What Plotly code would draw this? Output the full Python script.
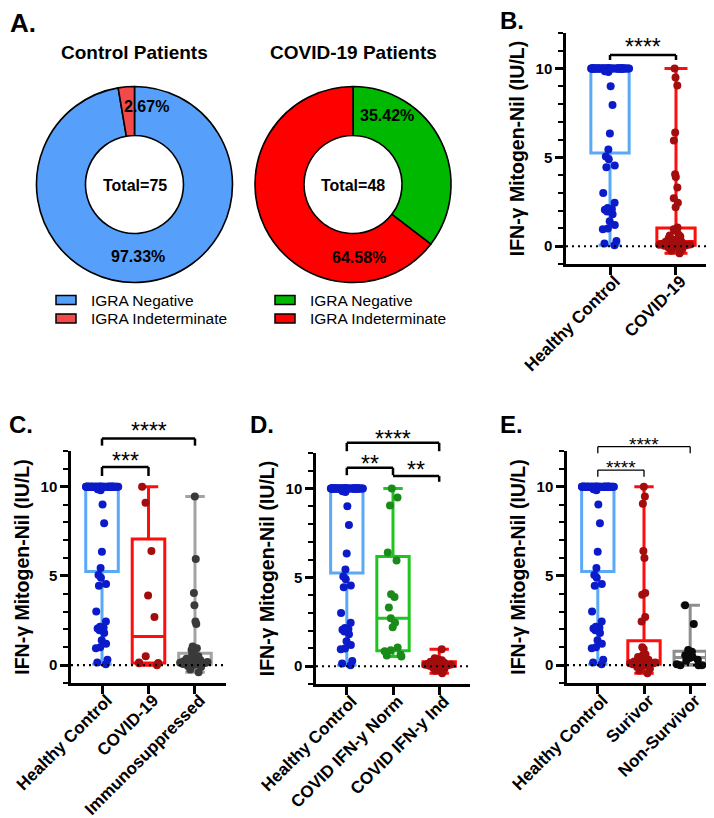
import numpy as np
import plotly.graph_objects as go

W, H = 714, 818
FONT = "Liberation Sans, Arial, Helvetica, sans-serif"

# ---- panel A: IGRA result counts ----
igra_labels = ["IGRA Negative", "IGRA Indeterminate"]
control_counts = [73, 2]
covid_counts = [17, 31]
control_colors = ["#56A0FB", "#F24A4A"]
covid_colors = ["#00B800", "#FF0000"]

# ---- panels B-E: IFN-γ Mitogen-Nil (IU/L) ----
healthy_control = [
    10.0, 10.0, 10.0, 10.0, 10.0, 10.0, 10.0,
    10.0, 10.0, 10.0, 10.0, 10.0, 10.0, 10.0,
    10.0, 10.0, 10.0, 10.0, 10.0, 10.0, 10.0,
    10.0, 10.0, 10.0, 10.0, 10.0, 10.0, 10.0,
    10.0, 10.0, 10.0, 10.0, 10.0, 10.0, 10.0,
    10.0, 10.0, 10.0, 10.0, 10.0, 10.0, 10.0,
    10.0, 10.0, 10.0, 10.0, 10.0, 10.0, 10.0,
    9.85, 9.8, 9.0, 7.95, 6.35, 5.45, 5.05, 4.9, 4.55, 4.45, 3.0, 2.45,
    2.15, 2.1, 2.05, 1.95, 1.8, 1.4, 1.2, 1.0, 0.95, 0.3, 0.15, 0.05,
]
ifn_norm = [10.0, 9.5, 9.05, 6.4, 5.95, 4.05, 3.9, 3.3, 2.7, 2.45, 2.2,
            1.05, 0.9, 0.85, 0.65, 0.6, 0.55]
ifn_ind = [0.95, 0.45, 0.4, 0.36, 0.33, 0.3, 0.28, 0.25, 0.22, 0.2, 0.2,
           0.18, 0.15, 0.14, 0.12, 0.1, 0.1, 0.08, 0.06, 0.05, 0.05, 0.03,
           0.02, 0.0, 0.0, 0.0, -0.05, -0.1, -0.15, -0.25, -0.4]
covid_all = ifn_norm + ifn_ind
covid_non_immuno = [10.0, 9.1, 6.4, 3.9, 2.7, 0.5, 0.15, 0.12, 0.1, 0.0]
immunosuppressed = [9.45, 5.95, 4.05, 3.35, 2.45, 2.3, 1.05, 0.95, 0.85, 0.6,
                    0.55, 0.5, 0.45, 0.4, 0.36, 0.33, 0.3, 0.28, 0.25, 0.22,
                    0.2, 0.2, 0.18, 0.15, 0.14, 0.12, 0.1, 0.08, 0.06, 0.05,
                    0.05, 0.03, 0.02, 0.0, -0.05, -0.1, -0.25, -0.4]
survivor = [10.0, 9.45, 9.05, 6.4, 6.0, 4.05, 3.95, 2.7, 2.45, 1.0, 0.9, 0.6,
            0.55, 0.5, 0.45, 0.4, 0.35, 0.3, 0.25, 0.22, 0.2, 0.18, 0.15,
            0.12, 0.1, 0.1, 0.08, 0.06, 0.05, 0.03, 0.02, 0.0, 0.0, -0.05,
            -0.1, -0.2, -0.3, -0.45]
non_survivor = [3.35, 2.3, 0.85, 0.75, 0.55, 0.5, 0.45, 0.4, 0.3, 0.25,
                0.05, 0.0, 0.0, 0.0]

HC = ("#5AA9F6", "#0B1BC9")
RED = ("#FF0D0D", "#A30D0D")
GRAY = ("#A3A3A3", "#3A3A3A")
GREEN = ("#1FC41F", "#1A8A1A")
DARKGRAY = ("#8E8E8E", "#0A0A0A")

Y_RANGE = [-1, 12]
X_PAD = 0.667


def px(x):
    return x / W


def py(y):
    return 1 - y / H


def box_stats(vals):
    a = np.asarray(vals, dtype=float)
    q1, med, q3 = np.percentile(a, [25, 50, 75], method="weibull")
    return a.min(), q1, med, q3, a.max()


fig = go.Figure()
shapes = []
annotations = []

# ---- donuts + their legends ----
for counts, colors, cx, lx in [(control_counts, control_colors, 126.5, 48),
                               (covid_counts, covid_colors, 345, 267)]:
    r, cy = 98, 176.5
    fig.add_trace(go.Pie(
        labels=igra_labels, values=counts, hole=0.5, sort=False,
        direction="clockwise", textinfo="none", showlegend=False,
        marker=dict(colors=colors, line=dict(color="black", width=1.6)),
        domain=dict(x=[px(cx - r), px(cx + r)], y=[py(cy + r), py(cy - r)]),
    ))
    for k, (lab, col) in enumerate(zip(igra_labels, colors)):
        yc = 292 + 18.5 * k
        shapes.append(dict(type="rect", xref="paper", yref="paper",
                           x0=px(lx), x1=px(lx + 20), y0=py(yc - 4.5), y1=py(yc + 4.5),
                           fillcolor=col, line=dict(color="black", width=1.5)))
        annotations.append(dict(text=lab, x=px(lx + 33), y=py(yc), xref="paper", yref="paper",
                                showarrow=False, xanchor="left", yanchor="middle",
                                font=dict(family=FONT, size=15.5, color="black")))

# ---- box panels ----
panels = [
    ("", (558, 712), (25, 256), 0.58,
     [("Healthy Control", healthy_control, HC), ("COVID-19", covid_all, RED)]),
    ("2", (63, 218), (443, 675), 0.7,
     [("Healthy Control", healthy_control, HC), ("COVID-19", covid_non_immuno, RED),
      ("Immunosuppressed", immunosuppressed, GRAY)]),
    ("3", (308, 462), (445, 676), 0.7,
     [("Healthy Control", healthy_control, HC), ("COVID IFN-y Norm", ifn_norm, GREEN),
      ("COVID IFN-y Ind", ifn_ind, RED)]),
    ("4", (559, 713), (443, 675), 0.7,
     [("Healthy Control", healthy_control, HC), ("Surivor", survivor, RED),
      ("Non-Survivor", non_survivor, DARKGRAY)]),
]

tick_font = dict(family=FONT, size=15, color="black", weight="bold")
xlabel_font = dict(family=FONT, size=17, color="black", weight="bold")
title_font = dict(family=FONT, size=19.5, color="black", weight="bold")

for ax, xdom, ydom, bw, groups in panels:
    xa, ya = "x" + ax, "y" + ax
    for name, vals, (box_c, pt_c) in groups:
        lo, q1, med, q3, hi = box_stats(vals)
        fig.add_trace(go.Box(
            x=[name], q1=[q1], median=[med], q3=[q3], lowerfence=[lo], upperfence=[hi],
            xaxis=xa, yaxis=ya, width=bw, whiskerwidth=0.6, boxpoints=False,
            fillcolor="rgba(0,0,0,0)", line=dict(color=box_c, width=3),
            showlegend=False, hoverinfo="skip",
        ))
        fig.add_trace(go.Box(
            x=[name] * len(vals), y=vals, xaxis=xa, yaxis=ya, width=bw,
            boxpoints="all", jitter=1, pointpos=0,
            fillcolor="rgba(0,0,0,0)", line=dict(color=box_c, width=0),
            marker=dict(color=pt_c, size=8), showlegend=False,
        ))
    n = len(groups)
    fig.update_layout({
        "xaxis" + ax: dict(
            domain=[px(xdom[0]), px(xdom[1])], anchor=ya, type="category",
            range=[-X_PAD, n - 1 + X_PAD], showline=True, linewidth=2.5,
            linecolor="black", ticks="outside", ticklen=8, tickwidth=2.5,
            tickcolor="black", tickangle=-45, tickfont=xlabel_font,
            ticklabelstandoff=-10, ticklabelshift=5,
            showgrid=False, zeroline=False, automargin=False,
        ),
        "yaxis" + ax: dict(
            domain=[py(ydom[1]), py(ydom[0])], anchor=xa, range=Y_RANGE,
            tickvals=[0, 5, 10], showline=True, linewidth=2.5, linecolor="black",
            ticks="outside", ticklen=8, tickwidth=2.5, tickcolor="black",
            minor=dict(dtick=1, tick0=0, ticks="outside", ticklen=5, tickwidth=2,
                       tickcolor="black", showgrid=False),
            tickfont=tick_font, showgrid=False, zeroline=False, automargin=False,
            title=dict(text="IFN-γ Mitogen-Nil (IU/L)", font=title_font, standoff=6),
        ),
    })
    # dotted zero line
    shapes.append(dict(type="line", xref=xa + " domain", yref=ya, x0=0, x1=1, y0=0, y1=0,
                       line=dict(color="black", width=2.2, dash="2px,4px")))

# ---- significance brackets ----
brackets = [
    ("", 2, 0, 1, 10.76, 10.48, 10.48, "****", 11.5, 2.5, 23),
    ("2", 3, 0, 2, 12.7, 12.3, 12.3, "****", 13.4, 2.5, 23),
    ("2", 3, 0, 1, 11.1, 10.6, 10.6, "***", 11.74, 2.5, 23),
    ("3", 3, 0, 2, 12.57, 12.1, 12.1, "****", 13.1, 2.5, 23),
    ("3", 3, 0, 1, 11.17, 10.75, 10.75, "**", 11.7, 2.5, 23),
    ("3", 3, 1, 2, 10.7, 10.7, 10.38, "**", 11.35, 2.5, 23),
    ("4", 3, 0, 2, 12.24, 11.87, 11.87, "****", 12.67, 1.3, 19),
    ("4", 3, 0, 1, 10.93, 10.56, 10.56, "****", 11.37, 1.3, 19),
]
for ax, n, i, j, yl, li, lj, stars, ys, lw, fs in brackets:
    fx = lambda k: (k + X_PAD) / (n - 1 + 2 * X_PAD)
    fy = lambda v: (v - Y_RANGE[0]) / (Y_RANGE[1] - Y_RANGE[0])
    ref = dict(xref="x" + ax + " domain", yref="y" + ax + " domain")
    ln = dict(color="black", width=lw)
    shapes.append(dict(type="line", x0=fx(i), x1=fx(j), y0=fy(yl), y1=fy(yl), line=ln, **ref))
    shapes.append(dict(type="line", x0=fx(i), x1=fx(i), y0=fy(yl), y1=fy(li), line=ln, **ref))
    shapes.append(dict(type="line", x0=fx(j), x1=fx(j), y0=fy(yl), y1=fy(lj), line=ln, **ref))
    annotations.append(dict(text=stars, x=fx((i + j) / 2), y=fy(ys - 0.3), showarrow=False,
                            xanchor="center", yanchor="middle",
                            font=dict(family=FONT, size=fs, color="black"), **ref))

# ---- panel A texts and panel letters ----
bold = lambda s: dict(family=FONT, size=s, color="black", weight="bold")
pct = lambda c, k: f"{100 * c[k] / sum(c):.2f}%"
texts = [
    ("A.", 0, 15, 26, "left"), ("B.", 490, 13, 24, "left"), ("C.", -1, 416, 24, "left"),
    ("D.", 240, 416, 24, "left"), ("E.", 490, 416, 24, "left"),
    ("Control Patients", 126.5, 45, 19, "center"), ("COVID-19 Patients", 345, 45, 19, "center"),
    (f"Total={sum(control_counts)}", 126.5, 178, 16, "center"),
    (f"Total={sum(covid_counts)}", 345, 178, 16, "center"),
    (pct(control_counts, 1), 138.5, 99, 16, "center"),
    (pct(control_counts, 0), 129.5, 248, 16, "center"),
    (pct(covid_counts, 0), 379, 107, 16, "center"),
    (pct(covid_counts, 1), 350.5, 249, 16, "center"),
]
for t, x, y, s, anchor in texts:
    annotations.append(dict(text=t, x=px(x), y=py(y), xref="paper", yref="paper",
                            showarrow=False, xanchor=anchor, yanchor="middle", font=bold(s)))

fig.update_layout(
    template="none",
    width=W, height=H, autosize=False,
    margin=dict(l=0, r=0, t=0, b=0),
    paper_bgcolor="white", plot_bgcolor="rgba(0,0,0,0)",
    boxmode="overlay", showlegend=False,
    shapes=shapes, annotations=annotations,
)

fig.write_html("out.html")
